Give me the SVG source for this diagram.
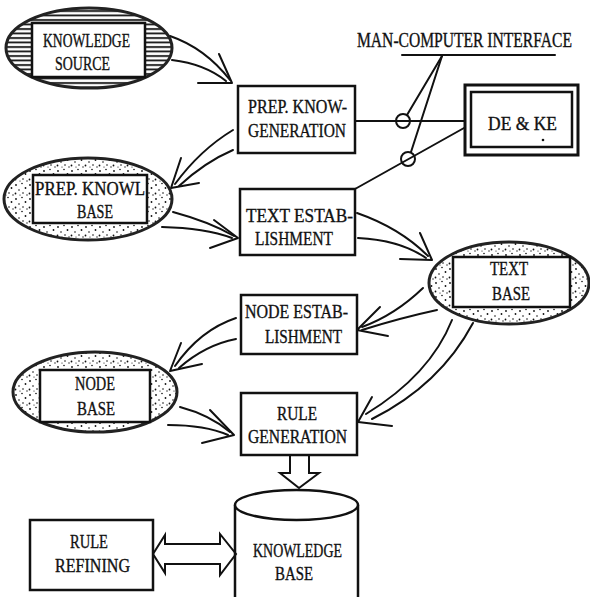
<svg xmlns="http://www.w3.org/2000/svg" width="590" height="597" viewBox="0 0 590 597">
  <style>
    .lbl { font-family: "Liberation Serif", "DejaVu Serif", serif; font-size: 19px; fill: #111; stroke: #111; stroke-width: 0.35; }
    .box { fill: #fff; stroke: #111; stroke-width: 2.5; }
    .oval { stroke: #222; stroke-width: 3; }
    .conn path, .conn line, .conn polyline { fill: none; stroke: #111; stroke-width: 2; stroke-linecap: round; stroke-linejoin: round; }
    .blk { fill: #fff; stroke: #111; stroke-width: 2; stroke-linejoin: miter; }
  </style>
  <defs>
    <pattern id="hatch" width="6" height="4.5" patternUnits="userSpaceOnUse">
      <rect width="6" height="4.5" fill="#fff"/>
      <line x1="0" y1="2" x2="6" y2="2" stroke="#111" stroke-width="1.8"/>
    </pattern>
    <pattern id="stipple" width="14" height="14" patternUnits="userSpaceOnUse">
      <rect width="14" height="14" fill="#fff"/>
      <g fill="#111">
        <circle cx="2" cy="3" r="0.9"/>
        <circle cx="8" cy="1.5" r="0.8"/>
        <circle cx="11.5" cy="6" r="0.9"/>
        <circle cx="5" cy="8" r="0.8"/>
        <circle cx="1.5" cy="11.5" r="0.9"/>
        <circle cx="9" cy="11" r="0.8"/>
        <circle cx="13" cy="13" r="0.7"/>
        <circle cx="6" cy="13" r="0.6"/>
      </g>
    </pattern>
  </defs>

  <!-- connectors -->
  <g id="connectors" class="conn">
    <!-- knowledge source -> prep. know generation -->
    <path d="M170,36 Q205,48 230,80"/>
    <path d="M172,60 Q205,64 226,81"/>
    <polyline points="219,54 232,83 198,83"/>
    <!-- prep. know generation -> prep. knowl base -->
    <path d="M233,130 Q200,150 175,184"/>
    <path d="M233,150 Q205,162 179,186"/>
    <polyline points="181,158 171,188 199,183"/>
    <!-- prep. knowl base -> text establishment -->
    <path d="M173,212 Q210,222 234,236"/>
    <path d="M162,227 Q205,228 232,238"/>
    <polyline points="214,220 238,238 210,248"/>
    <!-- text establishment -> text base -->
    <path d="M357,213 Q400,228 428,256"/>
    <path d="M358,238 Q400,240 426,258"/>
    <polyline points="420,233 432,260 400,259"/>
    <!-- text base -> node establishment -->
    <path d="M423,288 Q395,315 362,327"/>
    <path d="M437,310 Q400,318 362,330"/>
    <polyline points="380,307 357,330 388,336"/>
    <!-- node establishment -> node base -->
    <path d="M236,318 Q200,330 175,366"/>
    <path d="M236,339 Q205,345 179,368"/>
    <polyline points="181,343 170,371 202,364"/>
    <!-- node base -> rule generation -->
    <path d="M180,407 Q210,415 230,432"/>
    <path d="M168,425 Q205,425 228,435"/>
    <polyline points="210,410 234,435 202,443"/>
    <!-- text base -> rule generation -->
    <path d="M452,320 Q430,375 366,414"/>
    <path d="M473,323 Q440,385 372,419"/>
    <polyline points="372,397 358,422 392,426"/>
    <!-- man-computer interface links -->
    <line x1="402" y1="55" x2="555" y2="55" stroke-width="2.5"/>
    <line x1="442" y1="56" x2="407" y2="115"/>
    <line x1="442" y1="56" x2="411" y2="152"/>
    <line x1="355" y1="121" x2="465" y2="121"/>
    <line x1="355" y1="189" x2="464" y2="128"/>
    <circle cx="403" cy="121" r="7" fill="none" stroke="#111" stroke-width="2"/>
    <circle cx="408" cy="159" r="7" fill="none" stroke="#111" stroke-width="2"/>
    <!-- rule generation => knowledge base -->
    <polygon class="blk" points="290,455 290,473 280,473 299,488 319,473 309,473 309,455"/>
    <!-- rule refining <=> knowledge base -->
    <polygon class="blk" points="153,554 165,535 165,544 220,544 220,534 236,554 220,575 220,564 165,564 165,573"/>
  </g>

  <g id="knowledge-source">
    <ellipse class="oval" cx="89" cy="48" rx="83" ry="40" fill="url(#hatch)"/>
    <rect class="box" x="32" y="23" width="113" height="54"/>
    <text class="lbl" x="43" y="47" textLength="87" lengthAdjust="spacingAndGlyphs">KNOWLEDGE</text>
    <text class="lbl" x="55" y="70" textLength="55" lengthAdjust="spacingAndGlyphs">SOURCE</text>
  </g>

  <g id="man-computer-interface">
    <text class="lbl" transform="translate(357,47) scale(0.78,1)" x="0" y="0" style="font-size:20px">MAN-COMPUTER INTERFACE</text>
  </g>

  <g id="prep-know-generation">
    <rect class="box" x="238" y="86" width="117" height="67"/>
    <text class="lbl" x="248" y="113" textLength="99" lengthAdjust="spacingAndGlyphs">PREP. KNOW-</text>
    <text class="lbl" x="248" y="137" textLength="98" lengthAdjust="spacingAndGlyphs">GENERATION</text>
  </g>

  <g id="de-ke">
    <rect x="465" y="85" width="113" height="70" fill="#fff" stroke="#111" stroke-width="3"/>
    <rect x="471" y="92" width="101" height="55" fill="#fff" stroke="#111" stroke-width="2.5"/>
    <text class="lbl" x="488" y="130" textLength="69" lengthAdjust="spacingAndGlyphs">DE &amp; KE</text>
    <circle cx="543" cy="140" r="1.3" fill="#111"/>
  </g>

  <g id="prep-knowl-base">
    <ellipse class="oval" cx="88" cy="199" rx="84" ry="41" fill="url(#stipple)"/>
    <rect class="box" x="33" y="175" width="114" height="48"/>
    <text class="lbl" x="35" y="195" textLength="110" lengthAdjust="spacingAndGlyphs">PREP. KNOWL</text>
    <text class="lbl" x="77" y="218" textLength="36" lengthAdjust="spacingAndGlyphs">BASE</text>
  </g>

  <g id="text-establishment">
    <rect class="box" x="240" y="189" width="115" height="66"/>
    <text class="lbl" x="246" y="222" textLength="107" lengthAdjust="spacingAndGlyphs">TEXT ESTAB-</text>
    <text class="lbl" x="255" y="245" textLength="78" lengthAdjust="spacingAndGlyphs">LISHMENT</text>
  </g>

  <g id="text-base">
    <ellipse class="oval" cx="509" cy="283" rx="80" ry="41" fill="url(#stipple)"/>
    <rect class="box" x="453" y="257" width="117" height="50"/>
    <text class="lbl" x="490" y="275" textLength="38" lengthAdjust="spacingAndGlyphs">TEXT</text>
    <text class="lbl" x="492" y="300" textLength="38" lengthAdjust="spacingAndGlyphs">BASE</text>
  </g>

  <g id="node-establishment">
    <rect class="box" x="241" y="295" width="116" height="59"/>
    <text class="lbl" x="245" y="318" textLength="103" lengthAdjust="spacingAndGlyphs">NODE ESTAB-</text>
    <text class="lbl" x="265" y="343" textLength="77" lengthAdjust="spacingAndGlyphs">LISHMENT</text>
  </g>

  <g id="node-base">
    <ellipse class="oval" cx="95" cy="392" rx="82" ry="40" fill="url(#stipple)"/>
    <rect class="box" x="40" y="370" width="110" height="52"/>
    <text class="lbl" x="75" y="390" textLength="40" lengthAdjust="spacingAndGlyphs">NODE</text>
    <text class="lbl" x="77" y="415" textLength="38" lengthAdjust="spacingAndGlyphs">BASE</text>
  </g>

  <g id="rule-generation">
    <rect class="box" x="241" y="393" width="116" height="62"/>
    <text class="lbl" x="277" y="420" textLength="40" lengthAdjust="spacingAndGlyphs">RULE</text>
    <text class="lbl" x="248" y="443" textLength="99" lengthAdjust="spacingAndGlyphs">GENERATION</text>
  </g>

  <g id="knowledge-base">
    <path d="M235,505 L235,600 M358,505 L358,600" fill="none" stroke="#111" stroke-width="2.5"/>
    <ellipse cx="296.5" cy="505" rx="61.5" ry="15" fill="#fff" stroke="#111" stroke-width="2.5"/>
    <text class="lbl" x="253" y="557" textLength="89" lengthAdjust="spacingAndGlyphs">KNOWLEDGE</text>
    <text class="lbl" x="275" y="580" textLength="38" lengthAdjust="spacingAndGlyphs">BASE</text>
  </g>

  <g id="rule-refining">
    <rect class="box" x="30" y="520" width="123" height="70"/>
    <text class="lbl" x="70" y="548" textLength="38" lengthAdjust="spacingAndGlyphs">RULE</text>
    <text class="lbl" x="55" y="572" textLength="75" lengthAdjust="spacingAndGlyphs">REFINING</text>
  </g>
</svg>
